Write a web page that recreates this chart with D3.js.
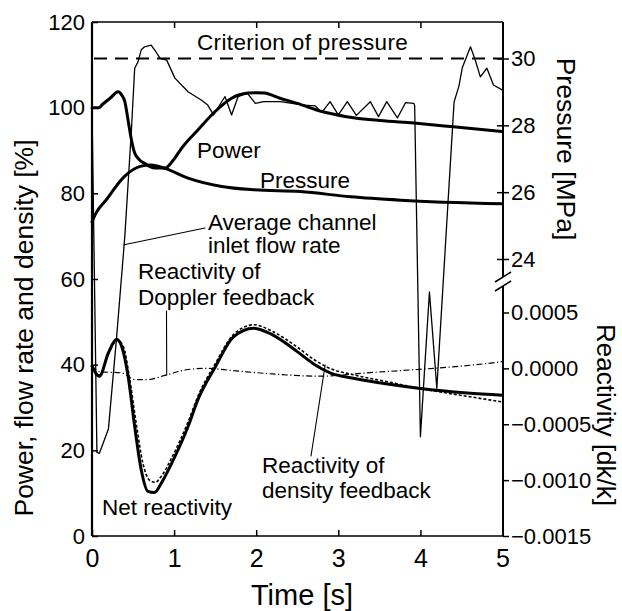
<!DOCTYPE html>
<html><head><meta charset="utf-8">
<script src="https://cdn.jsdelivr.net/npm/d3@7"></script>
<style>
body{margin:0;background:#fff;}
svg{display:block;font-family:"Liberation Sans",Arial,Helvetica,sans-serif;}
</style></head><body>
<svg id="chart" width="622" height="611"></svg>
<script>
// ---------- data ----------
const xTicks = [0, 1, 2, 3, 4, 5];
const leftTicks = [0, 20, 40, 60, 80, 100, 120];
const pressureTicks = [24, 26, 28, 30];
const reactivityTicks = [-0.0015, -0.0010, -0.0005, 0.0000, 0.0005];
const pressureCriterion = 30;

// Power [%]
const powerTime = [0, 0.08, 0.13, 0.22, 0.32, 0.36, 0.4, 0.44, 0.48, 0.52, 0.58, 0.64, 0.76, 0.89, 1.0, 1.09, 1.29, 1.5, 1.7, 1.9, 2.0, 2.1, 2.29, 2.5, 2.8, 3.1, 3.51, 3.92, 4.37, 5.0];
const power     = [100, 100, 100.8, 102.2, 103.7, 103, 101.4, 97, 92.5, 89.4, 87.8, 87, 85.9, 85.9, 88, 90.5, 94.8, 99.1, 102.2, 103.4, 103.5, 103.4, 102.2, 101, 99.1, 97.9, 97, 96.4, 95.6, 94.4];

// Average channel inlet flow rate [%]
const flowTime = [0, 0.06, 0.09, 0.2, 0.3, 0.4, 0.48, 0.52, 0.56, 0.6, 0.64, 0.72, 0.78, 0.83, 0.91, 1.01, 1.17, 1.33, 1.41, 1.48, 1.62, 1.70, 1.78, 1.89, 1.99, 2.09, 2.29, 2.58, 2.72, 2.80, 2.90, 3.00, 3.11, 3.22, 3.39, 3.49, 3.59, 3.72, 3.82, 3.92, 3.93, 4.00, 4.11, 4.20, 4.41, 4.47, 4.51, 4.61, 4.67, 4.73, 4.81, 4.89, 5.0];
const flow     = [100, 19.5, 19.3, 25, 46.5, 70, 94.8, 109.2, 110.7, 113.5, 114.2, 114.6, 113, 111.5, 111.1, 106.9, 103.7, 101.8, 100.6, 98.3, 102.6, 98.3, 102.6, 103.4, 101.0, 101.4, 101.4, 100.6, 100.4, 98.9, 101.4, 98.3, 101.4, 98.2, 101.4, 97.9, 101.4, 97.6, 101.2, 101.0, 100.5, 23.2, 57, 34.5, 101.3, 105.1, 109.3, 114.2, 111, 107.2, 109.2, 105.3, 104.1];

// Pressure [MPa]
const pressureTime = [0, 0.05, 0.17, 0.39, 0.6, 0.72, 0.89, 1.17, 1.58, 1.98, 2.54, 3.15, 3.76, 5.0];
const pressure     = [25.11, 25.38, 25.76, 26.46, 26.78, 26.81, 26.71, 26.42, 26.17, 26.07, 26.02, 25.86, 25.76, 25.65];

// Net reactivity [dk/k]
const netTime = [0, 0.09, 0.2, 0.3, 0.36, 0.44, 0.52, 0.6, 0.68, 0.76, 0.85, 0.97, 1.17, 1.29, 1.5, 1.72, 1.97, 2.2, 2.5, 2.7, 2.9, 3.2, 3.6, 4.0, 4.57, 5.0];
const netReactivity = [0.00002, -0.00007, 0.00014, 0.00026, 0.0002, -0.00007, -0.00052, -0.00091, -0.0011, -0.00111, -0.00102, -0.00085, -0.00052, -0.00028, 0.00001, 0.00028, 0.00036, 0.0003, 0.00015, 0.00004, -0.00004, -0.00009, -0.00014, -0.00018, -0.00022, -0.00024];

// Reactivity of density feedback [dk/k]
const densityTime = [0, 0.09, 0.2, 0.31, 0.38, 0.46, 0.54, 0.62, 0.7, 0.77, 0.85, 0.97, 1.17, 1.29, 1.5, 1.72, 1.97, 2.2, 2.5, 2.7, 2.9, 3.2, 3.6, 4.0, 4.57, 5.0];
const densityReactivity = [0.00002, -0.00006, 0.00013, 0.00025, 0.0002, -0.0001, -0.0005, -0.00085, -0.001, -0.00102, -0.00096, -0.0008, -0.00048, -0.00025, 0.00004, 0.0003, 0.00039, 0.00033, 0.00019, 0.00008, 0.0, -0.00006, -0.00012, -0.00018, -0.00025, -0.0003];

// Reactivity of Doppler feedback [dk/k]
const dopplerTime = [0, 0.09, 0.36, 0.52, 0.68, 0.9, 1.17, 1.4, 1.72, 2.2, 2.78, 3.35, 3.96, 4.5, 5.0];
const dopplerReactivity = [0.00002, -0.00003, -0.00004, -0.0001, -0.0001, -0.00006, -0.00001, 0.0, -0.00002, -0.00005, -0.00007, -0.00004, -0.00001, 0.00002, 0.00006];

// ---------- chart ----------
const svg = d3.select("#chart");
const x  = d3.scaleLinear().domain([0, 5]).range([92, 502.5]);
const yL = d3.scaleLinear().domain([0, 120]).range([536, 22]);
const yP = d3.scaleLinear().domain([24, 30]).range([259, 58.5]);
const yR = d3.scaleLinear().domain([-0.0015, 0.0005]).range([536, 312.5]);
const xR = 503;

const zip = (a, b) => a.map((t, i) => [t, b[i]]);

// frame
const frame = svg.append("g").attr("stroke", "#000").attr("fill", "none");
frame.append("line").attr("x1", x(0)).attr("x2", x(0)).attr("y1", yL(120)).attr("y2", yL(0)).attr("stroke-width", 2.2);
frame.append("line").attr("x1", x(0)).attr("x2", xR).attr("y1", yL(0)).attr("y2", yL(0)).attr("stroke-width", 1.6);
frame.append("line").attr("x1", x(0)).attr("x2", xR).attr("y1", yL(120)).attr("y2", yL(120)).attr("stroke-width", 1.6);
// right axis with break
frame.append("line").attr("x1", xR).attr("x2", xR).attr("y1", yL(120)).attr("y2", 277).attr("stroke-width", 2);
frame.append("line").attr("x1", xR).attr("x2", xR).attr("y1", 286).attr("y2", yL(0)).attr("stroke-width", 2);
frame.append("line").attr("x1", xR - 8).attr("x2", xR + 8).attr("y1", 282).attr("y2", 272).attr("stroke-width", 1.6);
frame.append("line").attr("x1", xR - 8).attr("x2", xR + 8).attr("y1", 291).attr("y2", 281).attr("stroke-width", 1.6);

function styleAxis(g, size) {
  g.select(".domain").remove();
  g.selectAll(".tick line").attr("stroke", "#000").attr("stroke-width", 1.5);
  g.selectAll(".tick text").attr("fill", "#000").style("font-size", size + "px")
    .style("font-family", '"Liberation Sans",Arial,Helvetica,sans-serif');
}

svg.append("g").attr("transform", `translate(${x(0)},0)`)
  .call(d3.axisLeft(yL).tickValues(leftTicks).tickSize(-6).tickPadding(7).tickFormat(d3.format("d")))
  .call(g => styleAxis(g, 22));
svg.append("g").attr("transform", `translate(0,${yL(0)})`)
  .call(d3.axisBottom(x).tickValues(xTicks).tickSize(-6).tickPadding(13).tickFormat(d3.format("d")))
  .call(g => styleAxis(g, 25));
svg.append("g").attr("transform", `translate(0,${yL(120)})`)
  .call(d3.axisTop(x).tickValues([1, 2, 3, 4]).tickSize(-6).tickFormat(""))
  .call(g => styleAxis(g, 22));
svg.append("g").attr("transform", `translate(${xR},0)`)
  .call(d3.axisRight(yP).tickValues(pressureTicks).tickSize(6).tickPadding(2).tickFormat(d3.format("d")))
  .call(g => styleAxis(g, 22));
svg.append("g").attr("transform", `translate(${xR},0)`)
  .call(d3.axisRight(yP).tickValues(pressureTicks).tickSize(-6).tickFormat(""))
  .call(g => styleAxis(g, 22));
svg.append("g").attr("transform", `translate(${xR},0)`)
  .call(d3.axisRight(yR).tickValues(reactivityTicks).tickSize(6).tickPadding(2).tickFormat(d3.format(".4f")))
  .call(g => styleAxis(g, 22));

// series
const lineL = d3.line().x(d => x(d[0])).y(d => yL(d[1]));
const lineP = d3.line().x(d => x(d[0])).y(d => yP(d[1])).curve(d3.curveMonotoneX);
const lineR = d3.line().x(d => x(d[0])).y(d => yR(d[1])).curve(d3.curveMonotoneX);
const lineLs = d3.line().x(d => x(d[0])).y(d => yL(d[1])).curve(d3.curveMonotoneX);

const plot = svg.append("g").attr("fill", "none").attr("stroke", "#000")
  .attr("stroke-linejoin", "round").attr("stroke-linecap", "round");

plot.append("path").attr("d", lineR(zip(dopplerTime, dopplerReactivity)))
  .attr("stroke-width", 1.2).attr("stroke-dasharray", "6,2.5,1.2,2.5").attr("stroke-linecap", "butt");
plot.append("path").attr("d", lineR(zip(densityTime, densityReactivity)))
  .attr("stroke-width", 1.6).attr("stroke-dasharray", "3,2").attr("stroke-linecap", "butt");
plot.append("path").attr("d", lineR(zip(netTime, netReactivity))).attr("stroke-width", 3);
plot.append("path").attr("d", lineL(zip(flowTime, flow))).attr("stroke-width", 1.3);
plot.append("path").attr("d", lineP(zip(pressureTime, pressure))).attr("stroke-width", 3);
plot.append("path").attr("d", lineLs(zip(powerTime, power))).attr("stroke-width", 3);

// criterion of pressure
plot.append("line").attr("x1", x(0) + 2).attr("x2", xR - 1)
  .attr("y1", yP(pressureCriterion)).attr("y2", yP(pressureCriterion))
  .attr("stroke-width", 2.2).attr("stroke-dasharray", "13,8").attr("stroke-linecap", "butt");

// leader lines
const leaders = [
  { from: [205, 228], t: 0.39, v: 68, scale: "L" },
  { from: [166.5, 311], t: 0.91, v: -0.00006, scale: "R" },
  { from: [311, 456], t: 2.84, v: 0.00003, scale: "R" }
];
leaders.forEach(l => {
  const ys = l.scale === "L" ? yL : yR;
  plot.append("line").attr("x1", l.from[0]).attr("y1", l.from[1])
    .attr("x2", x(l.t)).attr("y2", ys(l.v)).attr("stroke-width", 1.1);
});

// annotations
const annotations = [
  { text: "Criterion of pressure", x: 197, y: 50, ls: 0.35 },
  { text: "Power", x: 197, y: 158 },
  { text: "Pressure", x: 260, y: 188 },
  { text: "Average channel", x: 208, y: 230 },
  { text: "inlet flow rate", x: 208, y: 253 },
  { text: "Reactivity of", x: 138, y: 279 },
  { text: "Doppler feedback", x: 138, y: 305 },
  { text: "Reactivity of", x: 262, y: 473 },
  { text: "density feedback", x: 262, y: 498 },
  { text: "Net reactivity", x: 102, y: 515 }
];
svg.append("g").selectAll("text").data(annotations).join("text")
  .attr("x", d => d.x).attr("y", d => d.y).text(d => d.text)
  .style("font-size", "22.5px").style("letter-spacing", d => (d.ls || 0) + "px").attr("fill", "#000");

// axis titles
svg.append("text").attr("x", 302).attr("y", 605).attr("text-anchor", "middle")
  .style("font-size", "29px").text("Time [s]");
svg.append("text").attr("transform", "translate(33,328) rotate(-90)").attr("text-anchor", "middle")
  .style("font-size", "26.5px").text("Power, flow rate and density [%]");
svg.append("text").attr("transform", "translate(557,149) rotate(90)").attr("text-anchor", "middle")
  .style("font-size", "26.5px").text("Pressure [MPa]");
svg.append("text").attr("transform", "translate(597,415) rotate(90)").attr("text-anchor", "middle")
  .style("font-size", "26px").text("Reactivity [dk/k]");
</script>
</body></html>
